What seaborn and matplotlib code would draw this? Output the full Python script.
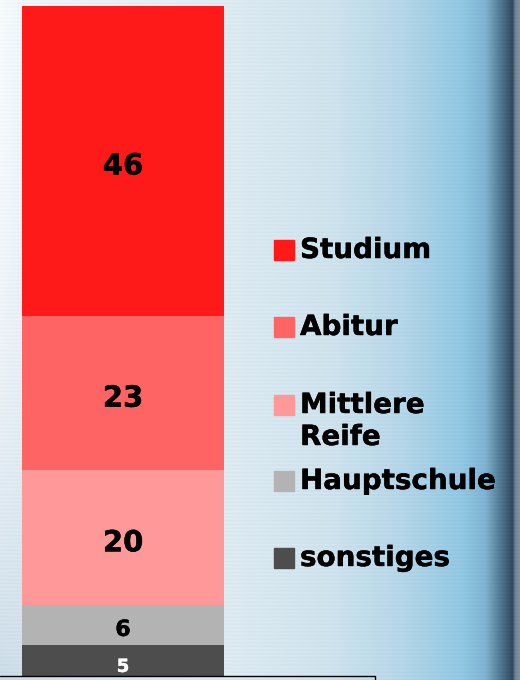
import numpy as np
import matplotlib
matplotlib.use("Agg")
import matplotlib.pyplot as plt
import matplotlib.patheffects as pe
import seaborn as sns
from matplotlib.patches import Rectangle
from matplotlib.lines import Line2D

# data (bottom to top)
categories = ["sonstiges", "Hauptschule", "Mittlere\nReife", "Abitur", "Studium"]
values = [5, 6, 20, 23, 46]
colors = ["#4d4d4d", "#b3b3b3", "#ff9999", "#ff6464", "#ff1a1a"]
label_colors = ["white", "black", "black", "black", "black"]
label_sizes = [13, 16, 21, 21, 21]

sns.set_theme(style="white")
plt.rcParams['font.family'] = ['DejaVu Sans']

W, H = 520, 680
fig = plt.figure(figsize=(W / 100, H / 100), dpi=100)

# background gradient (decoration)
bg = fig.add_axes([0, 0, 1, 1])
xs = np.arange(W)
stops_x = [0, 22, 220, 330, 400, 462, 485, 500, 512, 515, 520]
stops_c = np.array([
    [0.97, 0.98, 0.99], [0.93, 0.96, 0.98], [0.87, 0.92, 0.95], [0.81, 0.89, 0.93],
    [0.71, 0.84, 0.91], [0.57, 0.78, 0.89], [0.50, 0.70, 0.82], [0.32, 0.47, 0.57],
    [0.19, 0.29, 0.37], [0.44, 0.51, 0.58], [0.52, 0.58, 0.64]])
row = np.stack([np.interp(xs, stops_x, stops_c[:, k]) for k in range(3)], axis=-1)
img = np.repeat(row[None, :, :], H, axis=0)
# left strip darkens toward the bottom
yy = np.linspace(0, 1, H)[:, None]
left = np.clip(1 - xs / 230, 0, 1)[None, :]
tint = np.array([0.78, 0.85, 0.90])
shade = (yy ** 2 * 0.9) * left
img = img * (1 - shade[..., None]) + tint * shade[..., None]
# faint horizontal streaks
streak = 0.012 * np.sin(np.arange(H) * 1.7)[:, None, None]
img = np.clip(img + streak, 0, 1)
bg.imshow(img, aspect="auto", extent=[0, W, H, 0])
bg.set_xlim(0, W)
bg.set_ylim(H, 0)
bg.axis("off")

# stacked bar (bottom slightly cut by the frame line)
ax = fig.add_axes([22 / W, 4 / H, 202 / W, 670 / H])
cum = np.cumsum(values)
for i in range(len(values) - 1, -1, -1):
    sns.barplot(x=["Gesamt"], y=[cum[i]], color=colors[i], width=1.0,
                saturation=1, linewidth=0, ax=ax)
ax.set_xlim(-0.5, 0.5)
ax.set_ylim(0.45, 100)
ax.axis("off")

for i, v in enumerate(values):
    mid = cum[i] - v / 2
    ax.text(0, mid - 0.4, str(v), ha="center", va="center_baseline", fontsize=label_sizes[i],
            fontweight="bold", color=label_colors[i],
            path_effects=[pe.withStroke(linewidth=0.3, foreground=label_colors[i])])

# legend drawn by hand (top to bottom)
bold = [pe.withStroke(linewidth=0.3, foreground="black")]
leg_y = [250, 327, 405, 481, 558]
for j, i in enumerate(range(len(values) - 1, -1, -1)):
    y = leg_y[j]
    fig.patches.append(Rectangle((274 / W, 1 - (y + 10) / H), 20 / W, 20 / H,
                                 transform=fig.transFigure, color=colors[i]))
    for k, line in enumerate(categories[i].split("\n")):
        fig.text(300 / W, 1 - (y - 3 + 32 * k) / H, line, ha="left", va="center_baseline",
                 fontsize=20, fontweight="bold", color="black", path_effects=bold)

# frame line at the bottom edge
fig.lines.append(Line2D([0, 375 / W, 375 / W], [1 - 676 / H, 1 - 676 / H, 0],
                        transform=fig.transFigure, color="black", linewidth=1))

fig.savefig("out.png", dpi=100)
